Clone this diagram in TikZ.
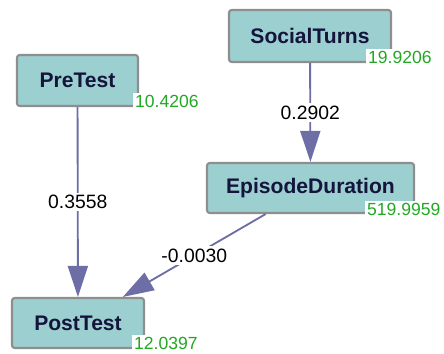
\documentclass[tikz,border=0pt]{standalone}
\usepackage{fontspec}
\setmainfont{Liberation Sans}
\usetikzlibrary{arrows.meta,positioning}
\definecolor{varFill}{HTML}{9CCFCF}
\definecolor{varLine}{HTML}{8E8E8E}
\definecolor{varText}{HTML}{14143C}
\definecolor{coefBlue}{HTML}{6E6EA6}
\definecolor{errGreen}{HTML}{22A822}
\tikzset{
  var/.style={draw=varLine,line width=1.2pt,fill=varFill,rounded corners=1.5pt,
    text=varText,font=\fontsize{12}{14}\selectfont\bfseries,inner sep=0pt},
  errval/.style={fill=white,text=errGreen,font=\fontsize{10}{12}\selectfont,
    inner xsep=1pt,inner ysep=1pt,anchor=west},
  coef/.style={draw=coefBlue,line width=1.05pt,
    -{Triangle[length=0.62cm,width=0.4cm]}},
  coeflab/.style={fill=white,text=black,font=\fontsize{11}{13}\selectfont,inner sep=1.5pt}
}

\begin{document}
\begin{tikzpicture}[x=0.02cm,y=-0.02cm]
    \useasboundingbox (0,0) rectangle (444,354);
    \node[var,minimum width=2.42cm,minimum height=1.02cm] (pre) at (77.5,80.5) {PreTest};
    \node[var,minimum width=3.24cm,minimum height=1.04cm] (social) at (310,36) {SocialTurns};
    \node[var,minimum width=4.14cm,minimum height=1cm] (episode) at (310.5,188) {EpisodeDuration};
    \node[var,minimum width=2.64cm,minimum height=1cm] (post) at (78,323) {PostTest};
    \node[errval] (preErr) at (133,101) {10.4206};
    \node[errval] (socialErr) at (366,57) {19.9206};
    \node[errval] (episodeErr) at (365,209) {519.9959};
    \node[errval] (postErr) at (132,343) {12.0397};
    \draw[coef] (pre) -- node[coeflab] {0.3558} (post);
    \draw[coef] (social) -- node[coeflab] {0.2902} (episode);
    \draw[coef] (episode) -- node[coeflab] {-0.0030} (post);
  \end{tikzpicture}
\end{document}
